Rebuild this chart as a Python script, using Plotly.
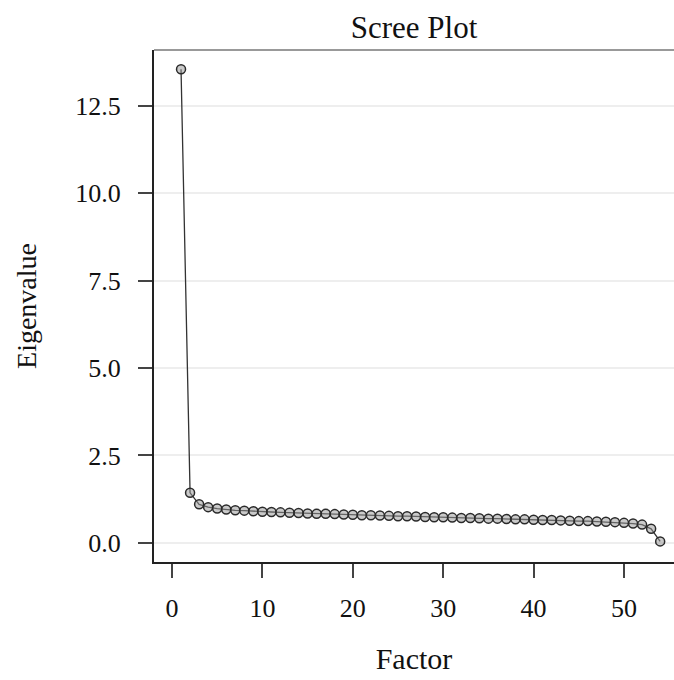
import plotly.graph_objects as go

factors = list(range(1, 55))
eigenvalues = [13.55, 1.43, 1.10, 1.02, 0.98, 0.95, 0.93, 0.92, 0.90, 0.89,
               0.88, 0.87, 0.86, 0.85, 0.84, 0.83, 0.83, 0.82, 0.81, 0.80,
               0.79, 0.79, 0.78, 0.77, 0.76, 0.76, 0.75, 0.74, 0.73, 0.73,
               0.72, 0.71, 0.71, 0.70, 0.69, 0.69, 0.68, 0.67, 0.67, 0.66,
               0.65, 0.65, 0.64, 0.63, 0.62, 0.62, 0.61, 0.60, 0.59, 0.57,
               0.55, 0.52, 0.40, 0.04]
x_ticks = [0, 10, 20, 30, 40, 50]
y_ticks = [0.0, 2.5, 5.0, 7.5, 10.0, 12.5]
y_tick_labels = ["0.0", "2.5", "5.0", "7.5", "10.0", "12.5"]

FONT = "Liberation Serif"

fig = go.Figure()
fig.add_trace(go.Scatter(
    x=factors, y=eigenvalues, mode="lines+markers",
    line=dict(color="#333333", width=1.3),
    marker=dict(symbol="circle", size=9, color="rgba(150,150,150,0.5)",
                line=dict(color="#2a2a2a", width=1.5)),
    showlegend=False, hoverinfo="x+y",
))

# top frame line of the plot area
fig.add_shape(type="line", xref="paper", yref="paper", x0=0, x1=1, y0=1, y1=1,
              line=dict(color="#777777", width=1.6))

fig.update_layout(
    width=674, height=680,
    margin=dict(l=154, r=0, t=50, b=118),
    paper_bgcolor="white", plot_bgcolor="white",
    font=dict(family=FONT, size=26, color="#111111"),
    title=dict(text="Scree Plot", x=0.5, xref="paper", xanchor="center",
               y=1 - 27 / 680, yanchor="middle",
               font=dict(family=FONT, size=31, color="#111111")),
    xaxis=dict(
        range=[-1.99, 55.53], tickvals=x_ticks, ticktext=[str(v) for v in x_ticks],
        showgrid=False, zeroline=False,
        showline=True, linecolor="#222222", linewidth=2,
        ticks="outside", ticklen=14, tickwidth=2, tickcolor="#444444",
        ticklabelstandoff=8,
        tickfont=dict(family=FONT, size=26),
        title=dict(text="Factor", font=dict(family=FONT, size=30), standoff=26),
    ),
    yaxis=dict(
        range=[-0.55, 14.10], tickvals=y_ticks, ticktext=y_tick_labels,
        showgrid=True, gridcolor="#eeeeee", gridwidth=1.5, zeroline=False,
        showline=True, linecolor="#222222", linewidth=2,
        ticks="outside", ticklen=14, tickwidth=2, tickcolor="#444444",
        ticklabelstandoff=12,
        tickfont=dict(family=FONT, size=26),
        title=dict(text="Eigenvalue", font=dict(family=FONT, size=28), standoff=30),
    ),
)

fig.write_html("out.html", config={"displayModeBar": False},
               post_script="document.body.style.margin='0px';")
